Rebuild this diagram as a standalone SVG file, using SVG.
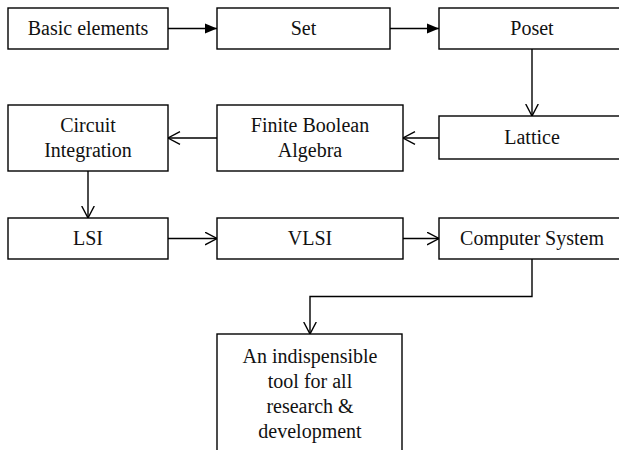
<svg xmlns="http://www.w3.org/2000/svg" width="619" height="450" viewBox="0 0 619 450">
<style>
.box{fill:#fff;stroke:#000;stroke-width:1.4}
.lbl{font-family:"Liberation Serif","Times New Roman",serif;font-size:20px;fill:#111;text-anchor:middle}
.con{fill:none;stroke:#000;stroke-width:1.4}
</style>
<defs>
<marker id="fa" markerUnits="userSpaceOnUse" markerWidth="13" markerHeight="12" refX="12" refY="6" orient="auto">
<path d="M0,1 L12,6 L0,11 Z" fill="#000"/>
</marker>
<marker id="oa" markerUnits="userSpaceOnUse" markerWidth="14" markerHeight="14" refX="12.5" refY="7" orient="auto">
<path d="M0.5,0.7 L12.5,7 L0.5,13.3" fill="none" stroke="#000" stroke-width="1.4"/>
</marker>
</defs>
<g id="connectors">
<line class="con" x1="168" y1="28.5" x2="217" y2="28.5" marker-end="url(#fa)"/>
<line class="con" x1="390" y1="28.5" x2="439" y2="28.5" marker-end="url(#fa)"/>
<line class="con" x1="532" y1="49" x2="532" y2="116" marker-end="url(#oa)"/>
<line class="con" x1="439" y1="138" x2="403" y2="138" marker-end="url(#oa)"/>
<line class="con" x1="217" y1="138" x2="168" y2="138" marker-end="url(#oa)"/>
<line class="con" x1="88" y1="171" x2="88" y2="218" marker-end="url(#oa)"/>
<line class="con" x1="168" y1="238.5" x2="217" y2="238.5" marker-end="url(#oa)"/>
<line class="con" x1="403" y1="238.5" x2="439" y2="238.5" marker-end="url(#oa)"/>
<polyline class="con" points="532,259 532,296.5 310,296.5 310,334" marker-end="url(#oa)"/>
</g>
<g id="basic-elements"><rect class="box" x="8" y="8" width="160" height="41"/><text class="lbl" x="88" y="35">Basic elements</text></g>
<g id="set"><rect class="box" x="217" y="8" width="173" height="41"/><text class="lbl" x="303.5" y="35">Set</text></g>
<g id="poset"><rect class="box" x="439" y="8" width="188" height="41"/><text class="lbl" x="532" y="35">Poset</text></g>
<g id="circuit-integration"><rect class="box" x="8" y="105" width="160" height="66"/><text class="lbl" x="88" y="132">Circuit</text><text class="lbl" x="88" y="157">Integration</text></g>
<g id="finite-boolean-algebra"><rect class="box" x="217" y="105" width="186" height="66"/><text class="lbl" x="310" y="132">Finite Boolean</text><text class="lbl" x="310" y="157">Algebra</text></g>
<g id="lattice"><rect class="box" x="439" y="116" width="188" height="43"/><text class="lbl" x="532" y="144">Lattice</text></g>
<g id="lsi"><rect class="box" x="8" y="218" width="160" height="41"/><text class="lbl" x="88" y="245">LSI</text></g>
<g id="vlsi"><rect class="box" x="217" y="218" width="186" height="41"/><text class="lbl" x="310" y="245">VLSI</text></g>
<g id="computer-system"><rect class="box" x="439" y="218" width="188" height="41"/><text class="lbl" x="532" y="245">Computer System</text></g>
<g id="indispensible-tool"><rect class="box" x="217" y="334" width="185" height="130"/><text class="lbl" x="310" y="363">An indispensible</text><text class="lbl" x="310" y="388">tool for all</text><text class="lbl" x="310" y="413">research &amp;</text><text class="lbl" x="310" y="438">development</text></g>
</svg>
